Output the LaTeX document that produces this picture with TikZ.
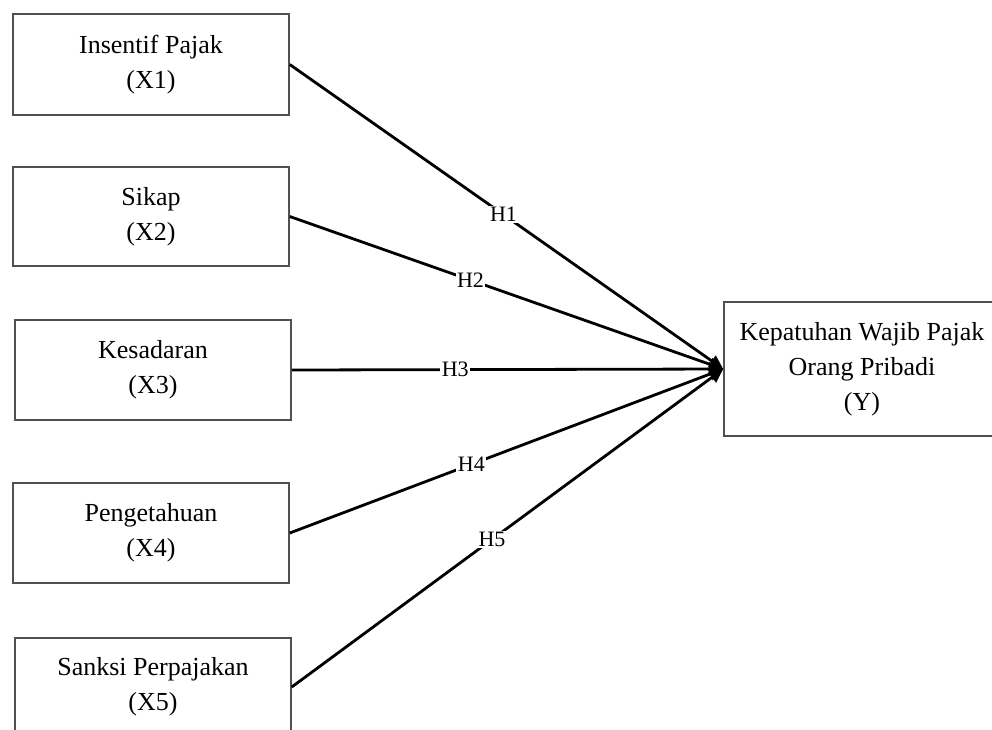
\documentclass[tikz,border=0pt]{standalone}
\usepackage{fontspec}
\setmainfont{Liberation Serif}
\usetikzlibrary{arrows.meta}
\definecolor{boxline}{HTML}{505050}
\begin{document}
\begin{tikzpicture}[x=1pt,y=-1pt,
  varbox/.style={draw=boxline, line width=1.5pt, minimum width=276pt, align=center,
    inner sep=0pt, font=\fontsize{26}{35}\selectfont},
  conn/.style={line width=2.8pt, black, -{Triangle[length=14pt,width=13pt]}},
  hlab/.style={fill=white, inner sep=1.5pt, font=\fontsize{22}{24}\selectfont}]
\useasboundingbox (0,0) rectangle (992,729);
\clip (0,0) rectangle (992,729);
\node[varbox, minimum height=101pt] (x1) at (151,64.5) {Insentif Pajak\\(X1)};
\node[varbox, minimum height=99pt] (x2) at (151,216.5) {Sikap\\(X2)};
\node[varbox, minimum height=100pt] (x3) at (153,370) {Kesadaran\\(X3)};
\node[varbox, minimum height=100pt] (x4) at (151,533) {Pengetahuan\\(X4)};
\node[varbox, minimum height=98pt] (x5) at (153,687) {Sanksi Perpajakan\\(X5)};
\node[varbox, minimum height=134pt] (y) at (862,369) {Kepatuhan Wajib Pajak\\Orang Pribadi\\(Y)};
\draw[conn] (x1.east) -- node[hlab, pos=0.493] {H1} (y.west);
\draw[conn] (x2.east) -- node[hlab, pos=0.417] {H2} (y.west);
\draw[conn] (x3.east) -- node[hlab, pos=0.379] {H3} (y.west);
\draw[conn] (x4.east) -- node[hlab, pos=0.419] {H4} (y.west);
\draw[conn] (x5.east) -- node[hlab, pos=0.464] {H5} (y.west);
\end{tikzpicture}
\end{document}
